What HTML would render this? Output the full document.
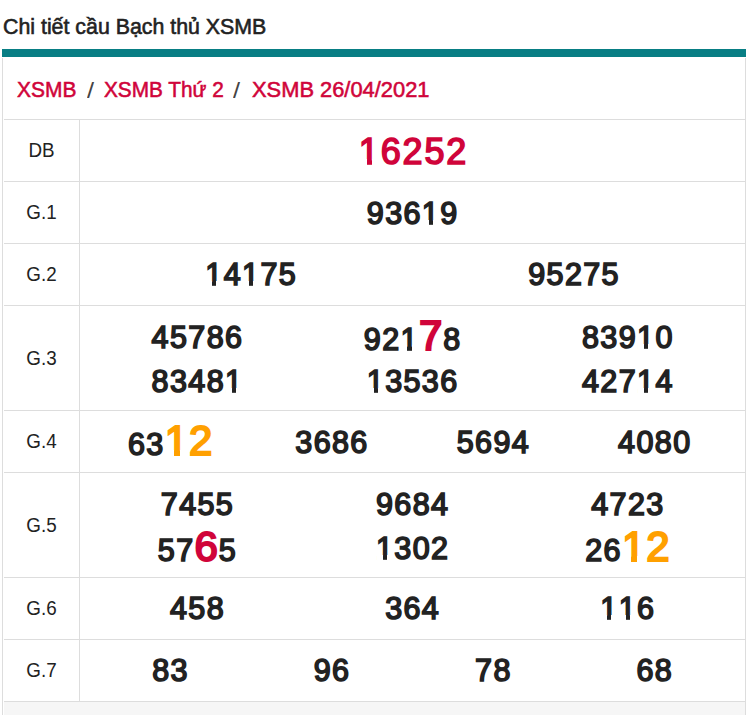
<!DOCTYPE html>
<html><head><meta charset="utf-8"><style>
html,body{margin:0;padding:0;background:#fff;width:748px;height:715px;overflow:hidden;position:relative;font-family:"Liberation Sans",sans-serif}
.t{position:absolute;left:3px;top:14.7px;font-size:22px;line-height:24px;color:#222;white-space:nowrap;transform:scaleX(0.97);transform-origin:0 0;-webkit-text-stroke:0.6px #222}
.bar{position:absolute;left:2px;top:49px;width:744px;height:8px;background:#087e84}
.box{position:absolute;left:2px;top:58px;width:742px;height:700px;border-left:1px solid #ddd;border-right:1px solid #ddd}
.bc{position:absolute;top:77.7px;font-size:22px;line-height:24px;color:#d0043a;white-space:nowrap;transform-origin:0 0;-webkit-text-stroke:0.55px #d0043a}
.sl{color:#444;-webkit-text-stroke-width:0!important}
.hl{position:absolute;left:4px;width:742px;height:1px;background:#ddd}
.vl{position:absolute;left:79px;top:119px;width:1px;height:582px;background:#ddd}
.foot{position:absolute;left:4px;top:702px;width:741px;height:13px;background:#f6f6f6}
.lb{position:absolute;left:4px;width:75px;text-align:center;font-size:20px;color:#222;transform:scaleX(0.94)}
.n{position:absolute;width:300px;text-align:center;line-height:1;white-space:nowrap}
.n span{line-height:0}
.n b{position:relative;font-weight:normal}
.n b::before,.n b::after{content:'';position:absolute;background:#fff;top:calc(0.815em - 1px);height:calc(0.09em + 4px)}
.n b::before{left:0.02em;width:calc(0.23em - var(--h))}
.n b::after{left:calc(0.335em + var(--h));width:0.21em}
</style></head><body>
<div class="t">Chi tiết cầu Bạch thủ XSMB</div>
<div class="bar"></div>
<div class="box"></div>
<div class="bc" style="left:17px;transform:scaleX(0.952)">XSMB</div>
<div class="bc sl" style="left:86.8px;top:77.9px;transform:scale(1.15,1.04)">/</div>
<div class="bc" style="left:104px;transform:scaleX(0.944)">XSMB Thứ 2</div>
<div class="bc sl" style="left:233.4px;top:77.9px;transform:scale(1.15,1.04)">/</div>
<div class="bc" style="left:251.8px;transform:scaleX(0.994)">XSMB 26/04/2021</div>
<div class="hl" style="top:119px"></div><div class="hl" style="top:181px"></div><div class="hl" style="top:243px"></div><div class="hl" style="top:305px"></div><div class="hl" style="top:410px"></div><div class="hl" style="top:472px"></div><div class="hl" style="top:577px"></div><div class="hl" style="top:639px"></div><div class="hl" style="top:701px"></div>
<div class="vl"></div>
<div class="foot"></div>
<div class="lb" style="top:120px;height:61px;line-height:61px">DB</div><div class="lb" style="top:182px;height:61px;line-height:61px">G.1</div><div class="lb" style="top:244px;height:61px;line-height:61px">G.2</div><div class="lb" style="top:306px;height:104px;line-height:104px">G.3</div><div class="lb" style="top:411px;height:61px;line-height:61px">G.4</div><div class="lb" style="top:473px;height:104px;line-height:104px">G.5</div><div class="lb" style="top:578px;height:61px;line-height:61px">G.6</div><div class="lb" style="top:640px;height:61px;line-height:61px">G.7</div>
<div class="n" style="left:263.5px;top:133.7px;font-size:36px;color:#d0043a;letter-spacing:1.85px;-webkit-text-stroke:1.6px #d0043a;--h:0.8px"><b>1</b>6252</div><div class="n" style="left:262.7px;top:197.7px;font-size:30.5px;color:#222;letter-spacing:1.4px;-webkit-text-stroke:1.6px #222;--h:0.8px">936<b>1</b>9</div><div class="n" style="left:101.3px;top:259.4px;font-size:30.5px;color:#222;letter-spacing:1.4px;-webkit-text-stroke:1.6px #222;--h:0.8px"><b>1</b>4<b>1</b>75</div><div class="n" style="left:424.1px;top:259.4px;font-size:30.5px;color:#222;letter-spacing:1.4px;-webkit-text-stroke:1.6px #222;--h:0.8px">95275</div><div class="n" style="left:47.5px;top:321.8px;font-size:30.5px;color:#222;letter-spacing:1.4px;-webkit-text-stroke:1.6px #222;--h:0.8px">45786</div><div class="n" style="left:477.9px;top:321.8px;font-size:30.5px;color:#222;letter-spacing:1.4px;-webkit-text-stroke:1.6px #222;--h:0.8px">839<b>1</b>0</div><div class="n" style="left:47.5px;top:365.7px;font-size:30.5px;color:#222;letter-spacing:1.4px;-webkit-text-stroke:1.6px #222;--h:0.8px">8348<b>1</b></div><div class="n" style="left:262.7px;top:365.7px;font-size:30.5px;color:#222;letter-spacing:1.4px;-webkit-text-stroke:1.6px #222;--h:0.8px"><b>1</b>3536</div><div class="n" style="left:477.9px;top:365.7px;font-size:30.5px;color:#222;letter-spacing:1.4px;-webkit-text-stroke:1.6px #222;--h:0.8px">427<b>1</b>4</div><div class="n" style="left:182.0px;top:426.6px;font-size:30.5px;color:#222;letter-spacing:1.4px;-webkit-text-stroke:1.6px #222;--h:0.8px">3686</div><div class="n" style="left:343.4px;top:426.6px;font-size:30.5px;color:#222;letter-spacing:1.4px;-webkit-text-stroke:1.6px #222;--h:0.8px">5694</div><div class="n" style="left:504.8px;top:426.6px;font-size:30.5px;color:#222;letter-spacing:1.4px;-webkit-text-stroke:1.6px #222;--h:0.8px">4080</div><div class="n" style="left:47.5px;top:488.6px;font-size:30.5px;color:#222;letter-spacing:1.4px;-webkit-text-stroke:1.6px #222;--h:0.8px">7455</div><div class="n" style="left:262.7px;top:488.6px;font-size:30.5px;color:#222;letter-spacing:1.4px;-webkit-text-stroke:1.6px #222;--h:0.8px">9684</div><div class="n" style="left:477.9px;top:488.6px;font-size:30.5px;color:#222;letter-spacing:1.4px;-webkit-text-stroke:1.6px #222;--h:0.8px">4723</div><div class="n" style="left:262.7px;top:532.7px;font-size:30.5px;color:#222;letter-spacing:1.4px;-webkit-text-stroke:1.6px #222;--h:0.8px"><b>1</b>302</div><div class="n" style="left:47.5px;top:593.4px;font-size:30.5px;color:#222;letter-spacing:1.4px;-webkit-text-stroke:1.6px #222;--h:0.8px">458</div><div class="n" style="left:262.7px;top:593.4px;font-size:30.5px;color:#222;letter-spacing:1.4px;-webkit-text-stroke:1.6px #222;--h:0.8px">364</div><div class="n" style="left:477.9px;top:593.4px;font-size:30.5px;color:#222;letter-spacing:1.4px;-webkit-text-stroke:1.6px #222;--h:0.8px"><b>1</b><b>1</b>6</div><div class="n" style="left:20.6px;top:655.1px;font-size:30.5px;color:#222;letter-spacing:1.4px;-webkit-text-stroke:1.6px #222;--h:0.8px">83</div><div class="n" style="left:182.0px;top:655.1px;font-size:30.5px;color:#222;letter-spacing:1.4px;-webkit-text-stroke:1.6px #222;--h:0.8px">96</div><div class="n" style="left:343.4px;top:655.1px;font-size:30.5px;color:#222;letter-spacing:1.4px;-webkit-text-stroke:1.6px #222;--h:0.8px">78</div><div class="n" style="left:504.8px;top:655.1px;font-size:30.5px;color:#222;letter-spacing:1.4px;-webkit-text-stroke:1.6px #222;--h:0.8px">68</div><div class="n" style="left:262.7px;top:323.5px;font-size:30.5px;color:#222;letter-spacing:1.4px;-webkit-text-stroke:1.6px #222;--h:0.8px">92<b>1</b><span style="font-size:42px;color:#d0043a;-webkit-text-stroke:2.1px #d0043a;letter-spacing:0.9px;--h:1.05px">7</span>8</div><div class="n" style="left:20.6px;top:428.6px;font-size:30.5px;color:#222;letter-spacing:1.4px;-webkit-text-stroke:1.6px #222;--h:0.8px">63<span style="font-size:42px;color:#ffa000;-webkit-text-stroke:2.1px #ffa000;letter-spacing:0.9px;--h:1.05px"><b>1</b>2</span></div><div class="n" style="left:47.5px;top:534.6px;font-size:30.5px;color:#222;letter-spacing:1.4px;-webkit-text-stroke:1.6px #222;--h:0.8px">57<span style="font-size:42px;color:#d0043a;-webkit-text-stroke:2.1px #d0043a;letter-spacing:0.9px;--h:1.05px">6</span>5</div><div class="n" style="left:477.9px;top:534.6px;font-size:30.5px;color:#222;letter-spacing:1.4px;-webkit-text-stroke:1.6px #222;--h:0.8px">26<span style="font-size:42px;color:#ffa000;-webkit-text-stroke:2.1px #ffa000;letter-spacing:0.9px;--h:1.05px"><b>1</b>2</span></div>
</body></html>
